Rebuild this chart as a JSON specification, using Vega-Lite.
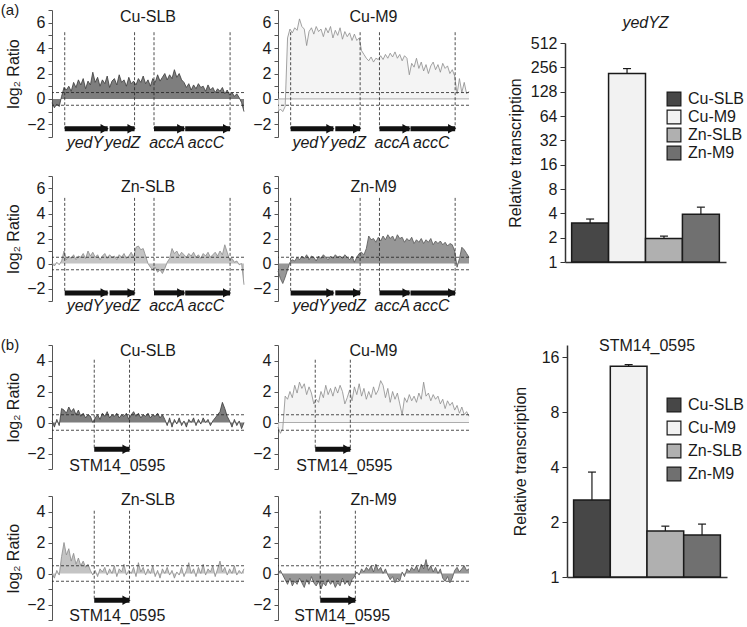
{
"$schema": "https://vega.github.io/schema/vega-lite/v6.json",
"background": "white",
"padding": {"left": 0, "top": 2, "right": 0, "bottom": 0},
"config": {
  "view": {"stroke": null},
  "font": "Liberation Sans",
  "text": {"font": "Liberation Sans"},
  "title": {"font": "Liberation Sans", "fontSize": 16, "fontWeight": "normal", "color": "#1a1a1a"},
  "axis": {"labelFont": "Liberation Sans", "titleFont": "Liberation Sans", "labelFontSize": 16, "titleFontSize": 16, "titleFontWeight": "normal", "labelColor": "#1a1a1a", "titleColor": "#1a1a1a", "domainColor": "#555", "tickColor": "#555", "grid": false, "tickSize": 4, "labelPadding": 3},
  "legend": {"labelFont": "Liberation Sans", "labelFontSize": 16, "labelColor": "#1a1a1a", "padding": 0}
},
"datasets": {
  "a1": [{"x":0,"y":-0.3},{"x":1,"y":-0.7},{"x":2,"y":-0.4},{"x":3,"y":-0.6},{"x":4,"y":0.2},{"x":5,"y":0.9},{"x":6,"y":0.7},{"x":7,"y":1.0},{"x":8,"y":0.6},{"x":9,"y":1.3},{"x":10,"y":0.9},{"x":11,"y":1.5},{"x":12,"y":1.1},{"x":13,"y":1.6},{"x":14,"y":0.8},{"x":15,"y":1.4},{"x":16,"y":1.1},{"x":17,"y":2.1},{"x":18,"y":1.3},{"x":19,"y":1.7},{"x":20,"y":1.0},{"x":21,"y":1.5},{"x":22,"y":1.2},{"x":23,"y":1.8},{"x":24,"y":0.9},{"x":25,"y":1.4},{"x":26,"y":1.6},{"x":27,"y":1.1},{"x":28,"y":1.9},{"x":29,"y":1.3},{"x":30,"y":1.5},{"x":31,"y":1.0},{"x":32,"y":1.7},{"x":33,"y":1.2},{"x":34,"y":1.4},{"x":35,"y":1.1},{"x":36,"y":1.6},{"x":37,"y":1.3},{"x":38,"y":1.8},{"x":39,"y":1.2},{"x":40,"y":1.5},{"x":41,"y":1.0},{"x":42,"y":1.6},{"x":43,"y":1.3},{"x":44,"y":1.9},{"x":45,"y":1.4},{"x":46,"y":1.7},{"x":47,"y":2.0},{"x":48,"y":1.5},{"x":49,"y":1.9},{"x":50,"y":1.6},{"x":51,"y":2.3},{"x":52,"y":1.7},{"x":53,"y":2.0},{"x":54,"y":1.5},{"x":55,"y":1.3},{"x":56,"y":0.9},{"x":57,"y":1.2},{"x":58,"y":0.7},{"x":59,"y":1.1},{"x":60,"y":0.8},{"x":61,"y":1.2},{"x":62,"y":0.9},{"x":63,"y":1.0},{"x":64,"y":0.6},{"x":65,"y":1.1},{"x":66,"y":0.7},{"x":67,"y":0.9},{"x":68,"y":0.5},{"x":69,"y":0.8},{"x":70,"y":0.6},{"x":71,"y":0.9},{"x":72,"y":0.4},{"x":73,"y":0.7},{"x":74,"y":0.3},{"x":75,"y":0.5},{"x":76,"y":0.2},{"x":77,"y":0.4},{"x":78,"y":0.1},{"x":79,"y":-0.3},{"x":80,"y":-1.0}],
  "a2": [{"x":0,"y":-1.0},{"x":1,"y":-0.8},{"x":2,"y":-1.0},{"x":3,"y":-0.6},{"x":4,"y":4.8},{"x":5,"y":5.5},{"x":6,"y":5.2},{"x":7,"y":5.6},{"x":8,"y":5.4},{"x":9,"y":6.3},{"x":10,"y":5.7},{"x":11,"y":5.5},{"x":12,"y":4.2},{"x":13,"y":5.3},{"x":14,"y":5.6},{"x":15,"y":5.1},{"x":16,"y":5.7},{"x":17,"y":5.3},{"x":18,"y":5.5},{"x":19,"y":4.9},{"x":20,"y":5.6},{"x":21,"y":5.2},{"x":22,"y":5.7},{"x":23,"y":4.8},{"x":24,"y":5.4},{"x":25,"y":5.0},{"x":26,"y":5.6},{"x":27,"y":4.7},{"x":28,"y":5.3},{"x":29,"y":4.9},{"x":30,"y":5.2},{"x":31,"y":4.6},{"x":32,"y":5.1},{"x":33,"y":4.6},{"x":34,"y":4.8},{"x":35,"y":3.8},{"x":36,"y":3.5},{"x":37,"y":3.2},{"x":38,"y":3.0},{"x":39,"y":3.3},{"x":40,"y":2.9},{"x":41,"y":3.2},{"x":42,"y":3.1},{"x":43,"y":3.4},{"x":44,"y":3.1},{"x":45,"y":3.5},{"x":46,"y":3.2},{"x":47,"y":3.6},{"x":48,"y":3.3},{"x":49,"y":3.7},{"x":50,"y":3.2},{"x":51,"y":3.5},{"x":52,"y":3.0},{"x":53,"y":3.4},{"x":54,"y":3.2},{"x":55,"y":1.9},{"x":56,"y":2.8},{"x":57,"y":2.5},{"x":58,"y":3.2},{"x":59,"y":2.4},{"x":60,"y":2.9},{"x":61,"y":2.2},{"x":62,"y":2.7},{"x":63,"y":2.0},{"x":64,"y":2.6},{"x":65,"y":2.9},{"x":66,"y":2.3},{"x":67,"y":2.7},{"x":68,"y":2.1},{"x":69,"y":2.8},{"x":70,"y":2.4},{"x":71,"y":2.6},{"x":72,"y":2.0},{"x":73,"y":2.3},{"x":74,"y":1.8},{"x":75,"y":0.4},{"x":76,"y":1.6},{"x":77,"y":0.5},{"x":78,"y":1.3},{"x":79,"y":0.4},{"x":80,"y":0.6}],
  "a3": [{"x":0,"y":0.0},{"x":1,"y":-0.2},{"x":2,"y":0.1},{"x":3,"y":-0.1},{"x":4,"y":0.2},{"x":5,"y":1.0},{"x":6,"y":0.3},{"x":7,"y":0.6},{"x":8,"y":0.4},{"x":9,"y":0.7},{"x":10,"y":0.3},{"x":11,"y":0.6},{"x":12,"y":0.5},{"x":13,"y":0.8},{"x":14,"y":0.4},{"x":15,"y":1.0},{"x":16,"y":0.6},{"x":17,"y":0.9},{"x":18,"y":0.5},{"x":19,"y":0.7},{"x":20,"y":0.3},{"x":21,"y":0.6},{"x":22,"y":0.8},{"x":23,"y":0.4},{"x":24,"y":0.7},{"x":25,"y":0.5},{"x":26,"y":0.6},{"x":27,"y":0.3},{"x":28,"y":0.7},{"x":29,"y":0.5},{"x":30,"y":0.8},{"x":31,"y":0.4},{"x":32,"y":0.6},{"x":33,"y":0.9},{"x":34,"y":0.5},{"x":35,"y":1.3},{"x":36,"y":1.4},{"x":37,"y":1.1},{"x":38,"y":1.2},{"x":39,"y":0.6},{"x":40,"y":0.0},{"x":41,"y":-0.3},{"x":42,"y":-0.5},{"x":43,"y":-0.3},{"x":44,"y":-0.7},{"x":45,"y":-0.5},{"x":46,"y":-0.8},{"x":47,"y":-0.4},{"x":48,"y":0.1},{"x":49,"y":0.4},{"x":50,"y":1.2},{"x":51,"y":0.8},{"x":52,"y":1.0},{"x":53,"y":0.6},{"x":54,"y":0.9},{"x":55,"y":0.7},{"x":56,"y":0.5},{"x":57,"y":0.8},{"x":58,"y":0.6},{"x":59,"y":0.9},{"x":60,"y":0.5},{"x":61,"y":0.7},{"x":62,"y":0.4},{"x":63,"y":0.8},{"x":64,"y":0.6},{"x":65,"y":0.9},{"x":66,"y":0.5},{"x":67,"y":0.7},{"x":68,"y":0.9},{"x":69,"y":0.6},{"x":70,"y":1.0},{"x":71,"y":0.7},{"x":72,"y":1.5},{"x":73,"y":0.9},{"x":74,"y":0.3},{"x":75,"y":0.4},{"x":76,"y":0.1},{"x":77,"y":0.2},{"x":78,"y":-0.1},{"x":79,"y":0.0},{"x":80,"y":-1.7}],
  "a4": [{"x":0,"y":-0.6},{"x":1,"y":-1.2},{"x":2,"y":-1.6},{"x":3,"y":-1.1},{"x":4,"y":-0.5},{"x":5,"y":0.1},{"x":6,"y":0.3},{"x":7,"y":0.2},{"x":8,"y":0.5},{"x":9,"y":0.3},{"x":10,"y":0.6},{"x":11,"y":0.4},{"x":12,"y":0.7},{"x":13,"y":0.3},{"x":14,"y":0.6},{"x":15,"y":0.5},{"x":16,"y":0.2},{"x":17,"y":0.6},{"x":18,"y":0.4},{"x":19,"y":0.7},{"x":20,"y":0.5},{"x":21,"y":0.3},{"x":22,"y":0.6},{"x":23,"y":0.4},{"x":24,"y":0.7},{"x":25,"y":0.5},{"x":26,"y":0.6},{"x":27,"y":0.4},{"x":28,"y":0.7},{"x":29,"y":0.5},{"x":30,"y":0.3},{"x":31,"y":0.6},{"x":32,"y":0.1},{"x":33,"y":0.5},{"x":34,"y":0.8},{"x":35,"y":0.9},{"x":36,"y":0.7},{"x":37,"y":1.2},{"x":38,"y":2.2},{"x":39,"y":1.9},{"x":40,"y":2.0},{"x":41,"y":1.7},{"x":42,"y":2.1},{"x":43,"y":1.8},{"x":44,"y":2.2},{"x":45,"y":1.9},{"x":46,"y":2.3},{"x":47,"y":2.0},{"x":48,"y":2.2},{"x":49,"y":1.8},{"x":50,"y":2.3},{"x":51,"y":2.0},{"x":52,"y":2.1},{"x":53,"y":1.7},{"x":54,"y":2.0},{"x":55,"y":1.8},{"x":56,"y":2.1},{"x":57,"y":1.6},{"x":58,"y":1.9},{"x":59,"y":1.7},{"x":60,"y":2.0},{"x":61,"y":1.6},{"x":62,"y":1.9},{"x":63,"y":1.7},{"x":64,"y":2.0},{"x":65,"y":1.5},{"x":66,"y":1.8},{"x":67,"y":1.6},{"x":68,"y":1.8},{"x":69,"y":1.5},{"x":70,"y":1.7},{"x":71,"y":1.4},{"x":72,"y":1.6},{"x":73,"y":1.5},{"x":74,"y":1.0},{"x":75,"y":-0.3},{"x":76,"y":0.4},{"x":77,"y":1.3},{"x":78,"y":1.1},{"x":79,"y":0.8},{"x":80,"y":0.5}],
  "b1": [{"x":0,"y":0.1},{"x":1,"y":-0.3},{"x":2,"y":0.2},{"x":3,"y":-0.2},{"x":4,"y":0.9},{"x":5,"y":0.8},{"x":6,"y":0.6},{"x":7,"y":1.0},{"x":8,"y":0.7},{"x":9,"y":0.9},{"x":10,"y":0.5},{"x":11,"y":0.8},{"x":12,"y":0.4},{"x":13,"y":0.6},{"x":14,"y":0.3},{"x":15,"y":0.5},{"x":16,"y":0.4},{"x":17,"y":0.0},{"x":18,"y":0.3},{"x":19,"y":0.5},{"x":20,"y":0.2},{"x":21,"y":0.6},{"x":22,"y":0.4},{"x":23,"y":0.7},{"x":24,"y":0.3},{"x":25,"y":0.5},{"x":26,"y":0.4},{"x":27,"y":0.6},{"x":28,"y":0.3},{"x":29,"y":0.5},{"x":30,"y":0.4},{"x":31,"y":0.6},{"x":32,"y":0.2},{"x":33,"y":0.5},{"x":34,"y":0.7},{"x":35,"y":0.4},{"x":36,"y":0.6},{"x":37,"y":0.3},{"x":38,"y":0.5},{"x":39,"y":0.4},{"x":40,"y":0.6},{"x":41,"y":0.3},{"x":42,"y":0.5},{"x":43,"y":0.4},{"x":44,"y":0.6},{"x":45,"y":0.3},{"x":46,"y":0.5},{"x":47,"y":0.2},{"x":48,"y":-0.2},{"x":49,"y":0.3},{"x":50,"y":-0.3},{"x":51,"y":0.2},{"x":52,"y":-0.1},{"x":53,"y":0.3},{"x":54,"y":-0.2},{"x":55,"y":0.1},{"x":56,"y":-0.3},{"x":57,"y":0.2},{"x":58,"y":0.0},{"x":59,"y":0.3},{"x":60,"y":-0.2},{"x":61,"y":0.2},{"x":62,"y":-0.1},{"x":63,"y":0.3},{"x":64,"y":0.0},{"x":65,"y":0.2},{"x":66,"y":-0.2},{"x":67,"y":0.1},{"x":68,"y":0.3},{"x":69,"y":0.5},{"x":70,"y":0.7},{"x":71,"y":1.3},{"x":72,"y":0.9},{"x":73,"y":0.4},{"x":74,"y":0.1},{"x":75,"y":-0.3},{"x":76,"y":0.2},{"x":77,"y":-0.2},{"x":78,"y":0.1},{"x":79,"y":-0.4},{"x":80,"y":0.0}],
  "b2": [{"x":0,"y":-0.3},{"x":1,"y":-0.7},{"x":2,"y":-0.4},{"x":3,"y":1.7},{"x":4,"y":1.5},{"x":5,"y":2.0},{"x":6,"y":1.6},{"x":7,"y":2.4},{"x":8,"y":1.9},{"x":9,"y":2.6},{"x":10,"y":2.2},{"x":11,"y":2.5},{"x":12,"y":1.8},{"x":13,"y":2.3},{"x":14,"y":1.9},{"x":15,"y":1.2},{"x":16,"y":1.5},{"x":17,"y":1.3},{"x":18,"y":2.0},{"x":19,"y":1.6},{"x":20,"y":2.4},{"x":21,"y":1.8},{"x":22,"y":2.2},{"x":23,"y":1.7},{"x":24,"y":2.3},{"x":25,"y":1.9},{"x":26,"y":2.4},{"x":27,"y":2.0},{"x":28,"y":1.2},{"x":29,"y":1.6},{"x":30,"y":2.1},{"x":31,"y":1.4},{"x":32,"y":2.3},{"x":33,"y":1.8},{"x":34,"y":2.5},{"x":35,"y":1.7},{"x":36,"y":2.2},{"x":37,"y":1.5},{"x":38,"y":2.0},{"x":39,"y":1.6},{"x":40,"y":2.3},{"x":41,"y":1.8},{"x":42,"y":2.1},{"x":43,"y":2.7},{"x":44,"y":2.4},{"x":45,"y":1.6},{"x":46,"y":2.2},{"x":47,"y":1.3},{"x":48,"y":2.0},{"x":49,"y":1.5},{"x":50,"y":1.9},{"x":51,"y":1.2},{"x":52,"y":0.5},{"x":53,"y":1.6},{"x":54,"y":1.3},{"x":55,"y":1.8},{"x":56,"y":1.4},{"x":57,"y":1.7},{"x":58,"y":1.3},{"x":59,"y":1.9},{"x":60,"y":1.5},{"x":61,"y":2.6},{"x":62,"y":1.7},{"x":63,"y":1.9},{"x":64,"y":1.4},{"x":65,"y":1.8},{"x":66,"y":1.5},{"x":67,"y":1.7},{"x":68,"y":1.2},{"x":69,"y":1.5},{"x":70,"y":0.9},{"x":71,"y":1.4},{"x":72,"y":1.1},{"x":73,"y":1.3},{"x":74,"y":0.8},{"x":75,"y":1.1},{"x":76,"y":0.6},{"x":77,"y":1.0},{"x":78,"y":0.5},{"x":79,"y":0.7},{"x":80,"y":0.4}],
  "b3": [{"x":0,"y":0.0},{"x":1,"y":-0.3},{"x":2,"y":0.2},{"x":3,"y":-0.1},{"x":4,"y":1.1},{"x":5,"y":2.0},{"x":6,"y":1.2},{"x":7,"y":1.6},{"x":8,"y":0.8},{"x":9,"y":1.3},{"x":10,"y":0.6},{"x":11,"y":1.0},{"x":12,"y":0.5},{"x":13,"y":0.8},{"x":14,"y":0.4},{"x":15,"y":0.6},{"x":16,"y":0.2},{"x":17,"y":-0.1},{"x":18,"y":0.2},{"x":19,"y":-0.2},{"x":20,"y":0.3},{"x":21,"y":0.1},{"x":22,"y":0.4},{"x":23,"y":-0.1},{"x":24,"y":0.3},{"x":25,"y":0.0},{"x":26,"y":0.5},{"x":27,"y":-0.2},{"x":28,"y":0.3},{"x":29,"y":0.1},{"x":30,"y":0.6},{"x":31,"y":-0.1},{"x":32,"y":0.2},{"x":33,"y":0.0},{"x":34,"y":0.4},{"x":35,"y":-0.2},{"x":36,"y":0.7},{"x":37,"y":0.1},{"x":38,"y":0.4},{"x":39,"y":-0.1},{"x":40,"y":0.3},{"x":41,"y":0.0},{"x":42,"y":0.5},{"x":43,"y":-0.2},{"x":44,"y":0.2},{"x":45,"y":-0.3},{"x":46,"y":0.3},{"x":47,"y":0.0},{"x":48,"y":0.4},{"x":49,"y":-0.1},{"x":50,"y":0.2},{"x":51,"y":-0.3},{"x":52,"y":0.1},{"x":53,"y":-0.1},{"x":54,"y":0.4},{"x":55,"y":-0.2},{"x":56,"y":0.2},{"x":57,"y":0.7},{"x":58,"y":0.0},{"x":59,"y":0.3},{"x":60,"y":-0.2},{"x":61,"y":0.4},{"x":62,"y":0.0},{"x":63,"y":0.6},{"x":64,"y":-0.1},{"x":65,"y":0.3},{"x":66,"y":0.1},{"x":67,"y":0.5},{"x":68,"y":-0.2},{"x":69,"y":0.3},{"x":70,"y":0.8},{"x":71,"y":0.1},{"x":72,"y":0.4},{"x":73,"y":-0.1},{"x":74,"y":0.3},{"x":75,"y":0.0},{"x":76,"y":0.5},{"x":77,"y":-0.1},{"x":78,"y":0.2},{"x":79,"y":0.0},{"x":80,"y":0.3}],
  "b4": [{"x":0,"y":0.0},{"x":1,"y":0.2},{"x":2,"y":-0.1},{"x":3,"y":-0.4},{"x":4,"y":-0.7},{"x":5,"y":-0.3},{"x":6,"y":-0.8},{"x":7,"y":-0.5},{"x":8,"y":-0.7},{"x":9,"y":-0.3},{"x":10,"y":-0.6},{"x":11,"y":-0.9},{"x":12,"y":-0.4},{"x":13,"y":-0.7},{"x":14,"y":-0.2},{"x":15,"y":-0.6},{"x":16,"y":-0.8},{"x":17,"y":-0.5},{"x":18,"y":-1.0},{"x":19,"y":-0.6},{"x":20,"y":-0.8},{"x":21,"y":-0.4},{"x":22,"y":-0.7},{"x":23,"y":-0.5},{"x":24,"y":-0.9},{"x":25,"y":-0.6},{"x":26,"y":-0.8},{"x":27,"y":-0.3},{"x":28,"y":-0.7},{"x":29,"y":-0.5},{"x":30,"y":-0.8},{"x":31,"y":-0.4},{"x":32,"y":-0.2},{"x":33,"y":0.1},{"x":34,"y":-0.1},{"x":35,"y":0.3},{"x":36,"y":0.1},{"x":37,"y":0.4},{"x":38,"y":0.2},{"x":39,"y":0.5},{"x":40,"y":0.1},{"x":41,"y":0.6},{"x":42,"y":0.2},{"x":43,"y":0.4},{"x":44,"y":0.0},{"x":45,"y":0.3},{"x":46,"y":-0.1},{"x":47,"y":-0.4},{"x":48,"y":-0.2},{"x":49,"y":-0.6},{"x":50,"y":-0.3},{"x":51,"y":-0.5},{"x":52,"y":0.1},{"x":53,"y":-0.2},{"x":54,"y":0.3},{"x":55,"y":0.1},{"x":56,"y":0.4},{"x":57,"y":0.2},{"x":58,"y":0.5},{"x":59,"y":0.1},{"x":60,"y":0.6},{"x":61,"y":0.3},{"x":62,"y":0.9},{"x":63,"y":0.2},{"x":64,"y":0.5},{"x":65,"y":0.1},{"x":66,"y":0.4},{"x":67,"y":0.0},{"x":68,"y":0.3},{"x":69,"y":-0.3},{"x":70,"y":-0.5},{"x":71,"y":-0.2},{"x":72,"y":-0.6},{"x":73,"y":-0.3},{"x":74,"y":0.2},{"x":75,"y":0.4},{"x":76,"y":0.1},{"x":77,"y":0.3},{"x":78,"y":0.5},{"x":79,"y":0.2},{"x":80,"y":0.3}],
  "thr": [{"t":0.5},{"t":-0.5}],
  "vA": [{"v":5.3},{"v":34.4},{"v":42.5},{"v":74.2}],
  "gA": [{"s":5.3,"e":23.2},{"s":24.0,"e":34.4},{"s":42.5,"e":55.1},{"s":55.5,"e":74.2}],
  "lA": [{"g":"yedY","c":13.7},{"g":"yedZ","c":29.4},{"g":"accA","c":47.9},{"g":"accC","c":64.2}],
  "barA": [{"cond":"Cu-SLB","val":3.03,"hi":3.4},{"cond":"Cu-M9","val":215,"hi":247},{"cond":"Zn-SLB","val":1.95,"hi":2.09},{"cond":"Zn-M9","val":3.9,"hi":4.77}],
  "barB": [{"cond":"Cu-SLB","val":2.64,"hi":3.76},{"cond":"Cu-M9","val":14.3,"hi":14.6},{"cond":"Zn-SLB","val":1.79,"hi":1.9},{"cond":"Zn-M9","val":1.7,"hi":1.95}]
},
"resolve": {"legend": {"color": "independent"}, "scale": {"color": "independent"}},
"vconcat": [
 {"resolve": {"legend": {"color": "independent"}, "scale": {"color": "independent"}},
  "hconcat": [
  {"vconcat": [
   {"hconcat": [
    {"width": 192, "height": 127, "title": {"text": "Cu-SLB", "offset": -23, "frame": "group"},
     "layer": [
      {"data": {"name": "a1"}, "mark": {"type": "area", "color": "#474747", "line": {"color": "#3a3a3a", "strokeWidth": 0.8}},
       "encoding": {"x": {"field": "x", "type": "quantitative", "scale": {"domain": [0, 80]}, "axis": null},
                    "y": {"field": "y", "type": "quantitative", "scale": {"domain": [-3, 7]}, "axis": {"tickCount": 10, "labelOverlap": false, "labelExpr": "datum.value % 2 == 0 ? datum.label : ''", "title": "log₂ Ratio", "titlePadding": 5}},
                    "y2": {"datum": 0}}},
      {"data": {"name": "thr"}, "mark": {"type": "rule", "color": "#222", "strokeDash": [3, 2], "strokeWidth": 0.8},
       "encoding": {"y": {"field": "t", "type": "quantitative"}}},
      {"data": {"name": "vA"}, "mark": {"type": "rule", "color": "#222", "strokeDash": [3, 2], "strokeWidth": 0.8},
       "encoding": {"x": {"field": "v", "type": "quantitative", "axis": null}, "y": {"datum": 5.25}, "y2": {"datum": -2.35}}},
      {"data": {"name": "gA"}, "mark": {"type": "rule", "color": "#111", "strokeWidth": 5},
       "encoding": {"x": {"field": "s", "type": "quantitative", "axis": null}, "x2": {"field": "e"}, "y": {"datum": -2.35}}},
      {"data": {"name": "gA"}, "mark": {"type": "point", "shape": "triangle-right", "filled": true, "color": "#111", "opacity": 1, "size": 90, "xOffset": -3},
       "encoding": {"x": {"field": "e", "type": "quantitative", "axis": null}, "y": {"datum": -2.35}}},
      {"data": {"name": "lA"}, "mark": {"type": "text", "fontStyle": "italic", "fontSize": 16, "color": "#1a1a1a"},
       "encoding": {"x": {"field": "c", "type": "quantitative", "axis": null}, "y": {"datum": -3.45}, "text": {"field": "g"}}},
      {"data": {"values": [{"label": "(a)"}]}, "mark": {"type": "text", "fontSize": 15, "color": "#1a1a1a"},
       "encoding": {"x": {"datum": -17.5, "axis": null}, "y": {"datum": 7}, "text": {"field": "label"}}}
     ]},
    {"width": 191, "height": 127, "title": {"text": "Cu-M9", "offset": -23, "frame": "group"},
     "layer": [
      {"data": {"name": "a2"}, "mark": {"type": "area", "color": "#efefef", "line": {"color": "#8c8c8c", "strokeWidth": 0.8}},
       "encoding": {"x": {"field": "x", "type": "quantitative", "scale": {"domain": [0, 80]}, "axis": null},
                    "y": {"field": "y", "type": "quantitative", "scale": {"domain": [-3, 7]}, "axis": {"tickCount": 10, "labelOverlap": false, "labelExpr": "datum.value % 2 == 0 ? datum.label : ''", "title": null}},
                    "y2": {"datum": 0}}},
      {"data": {"values": [{"z": 0}]}, "mark": {"type": "rule", "color": "#999", "strokeWidth": 0.8},
       "encoding": {"y": {"field": "z", "type": "quantitative"}}},
      {"data": {"name": "thr"}, "mark": {"type": "rule", "color": "#222", "strokeDash": [3, 2], "strokeWidth": 0.8},
       "encoding": {"y": {"field": "t", "type": "quantitative"}}},
      {"data": {"name": "vA"}, "mark": {"type": "rule", "color": "#222", "strokeDash": [3, 2], "strokeWidth": 0.8},
       "encoding": {"x": {"field": "v", "type": "quantitative", "axis": null}, "y": {"datum": 5.25}, "y2": {"datum": -2.35}}},
      {"data": {"name": "gA"}, "mark": {"type": "rule", "color": "#111", "strokeWidth": 5},
       "encoding": {"x": {"field": "s", "type": "quantitative", "axis": null}, "x2": {"field": "e"}, "y": {"datum": -2.35}}},
      {"data": {"name": "gA"}, "mark": {"type": "point", "shape": "triangle-right", "filled": true, "color": "#111", "opacity": 1, "size": 90, "xOffset": -3},
       "encoding": {"x": {"field": "e", "type": "quantitative", "axis": null}, "y": {"datum": -2.35}}},
      {"data": {"name": "lA"}, "mark": {"type": "text", "fontStyle": "italic", "fontSize": 16, "color": "#1a1a1a"},
       "encoding": {"x": {"field": "c", "type": "quantitative", "axis": null}, "y": {"datum": -3.45}, "text": {"field": "g"}}}
     ]}
   ], "spacing": 34, "bounds": "flush"},
   {"hconcat": [
    {"width": 192, "height": 125, "title": {"text": "Zn-SLB", "offset": -27, "frame": "group"},
     "layer": [
      {"data": {"name": "a3"}, "mark": {"type": "area", "color": "#ababab", "line": {"color": "#8a8a8a", "strokeWidth": 0.8}},
       "encoding": {"x": {"field": "x", "type": "quantitative", "scale": {"domain": [0, 80]}, "axis": null},
                    "y": {"field": "y", "type": "quantitative", "scale": {"domain": [-3, 7]}, "axis": {"tickCount": 10, "labelOverlap": false, "labelExpr": "datum.value % 2 == 0 ? datum.label : ''", "title": "log₂ Ratio", "titlePadding": 5}},
                    "y2": {"datum": 0}}},
      {"data": {"name": "thr"}, "mark": {"type": "rule", "color": "#222", "strokeDash": [3, 2], "strokeWidth": 0.8},
       "encoding": {"y": {"field": "t", "type": "quantitative"}}},
      {"data": {"name": "vA"}, "mark": {"type": "rule", "color": "#222", "strokeDash": [3, 2], "strokeWidth": 0.8},
       "encoding": {"x": {"field": "v", "type": "quantitative", "axis": null}, "y": {"datum": 5.25}, "y2": {"datum": -2.35}}},
      {"data": {"name": "gA"}, "mark": {"type": "rule", "color": "#111", "strokeWidth": 5},
       "encoding": {"x": {"field": "s", "type": "quantitative", "axis": null}, "x2": {"field": "e"}, "y": {"datum": -2.35}}},
      {"data": {"name": "gA"}, "mark": {"type": "point", "shape": "triangle-right", "filled": true, "color": "#111", "opacity": 1, "size": 90, "xOffset": -3},
       "encoding": {"x": {"field": "e", "type": "quantitative", "axis": null}, "y": {"datum": -2.35}}},
      {"data": {"name": "lA"}, "mark": {"type": "text", "fontStyle": "italic", "fontSize": 16, "color": "#1a1a1a"},
       "encoding": {"x": {"field": "c", "type": "quantitative", "axis": null}, "y": {"datum": -3.4}, "text": {"field": "g"}}}
     ]},
    {"width": 191, "height": 125, "title": {"text": "Zn-M9", "offset": -27, "frame": "group"},
     "layer": [
      {"data": {"name": "a4"}, "mark": {"type": "area", "color": "#6b6b6b", "line": {"color": "#555", "strokeWidth": 0.8}},
       "encoding": {"x": {"field": "x", "type": "quantitative", "scale": {"domain": [0, 80]}, "axis": null},
                    "y": {"field": "y", "type": "quantitative", "scale": {"domain": [-3, 7]}, "axis": {"tickCount": 10, "labelOverlap": false, "labelExpr": "datum.value % 2 == 0 ? datum.label : ''", "title": null}},
                    "y2": {"datum": 0}}},
      {"data": {"name": "thr"}, "mark": {"type": "rule", "color": "#222", "strokeDash": [3, 2], "strokeWidth": 0.8},
       "encoding": {"y": {"field": "t", "type": "quantitative"}}},
      {"data": {"name": "vA"}, "mark": {"type": "rule", "color": "#222", "strokeDash": [3, 2], "strokeWidth": 0.8},
       "encoding": {"x": {"field": "v", "type": "quantitative", "axis": null}, "y": {"datum": 5.25}, "y2": {"datum": -2.35}}},
      {"data": {"name": "gA"}, "mark": {"type": "rule", "color": "#111", "strokeWidth": 5},
       "encoding": {"x": {"field": "s", "type": "quantitative", "axis": null}, "x2": {"field": "e"}, "y": {"datum": -2.35}}},
      {"data": {"name": "gA"}, "mark": {"type": "point", "shape": "triangle-right", "filled": true, "color": "#111", "opacity": 1, "size": 90, "xOffset": -3},
       "encoding": {"x": {"field": "e", "type": "quantitative", "axis": null}, "y": {"datum": -2.35}}},
      {"data": {"name": "lA"}, "mark": {"type": "text", "fontStyle": "italic", "fontSize": 16, "color": "#1a1a1a"},
       "encoding": {"x": {"field": "c", "type": "quantitative", "axis": null}, "y": {"datum": -3.4}, "text": {"field": "g"}}}
     ]}
   ], "spacing": 34, "bounds": "flush"}
  ], "spacing": 17},
  {"width": 161, "height": 252, "title": {"text": "yedYZ", "fontStyle": "italic", "offset": -21, "frame": "group"},
   "data": {"name": "barA"},
   "layer": [
    {"mark": {"type": "bar", "stroke": "#1a1a1a", "strokeWidth": 1.5},
     "encoding": {
       "x": {"field": "cond", "type": "nominal", "sort": ["Cu-SLB","Cu-M9","Zn-SLB","Zn-M9"], "scale": {"paddingInner": 0, "paddingOuter": 0.18}, "axis": {"labels": false, "ticks": false, "title": null, "domainColor": "#333", "domainWidth": 1.5}},
       "y": {"field": "val", "type": "quantitative", "scale": {"type": "log", "base": 2, "domain": [1, 512], "nice": false, "range": [252, 33]}, "axis": {"values": [1,2,4,8,16,32,64,128,256,512], "title": "Relative transcription", "titlePadding": 7, "domainColor": "#333", "domainWidth": 1.5, "tickColor": "#333", "tickSize": 5}},
       "y2": {"datum": 1},
       "color": {"field": "cond", "type": "nominal", "scale": {"domain": ["Cu-SLB","Cu-M9","Zn-SLB","Zn-M9"], "range": ["#474747","#f2f2f2","#b0b0b0","#707070"]},
                 "legend": {"orient": "none", "legendX": 101, "legendY": 81, "title": null, "symbolType": "square", "symbolSize": 190, "symbolStrokeColor": "#1a1a1a", "symbolStrokeWidth": 1.2, "symbolOpacity": 1, "labelOffset": 6, "rowPadding": -5}}}},
    {"mark": {"type": "rule", "color": "#1a1a1a", "strokeWidth": 1.2},
     "encoding": {"x": {"field": "cond", "type": "nominal", "sort": ["Cu-SLB","Cu-M9","Zn-SLB","Zn-M9"]}, "y": {"field": "val", "type": "quantitative"}, "y2": {"field": "hi"}}},
    {"mark": {"type": "point", "shape": "stroke", "color": "#1a1a1a", "strokeWidth": 1.2, "size": 64, "opacity": 1},
     "encoding": {"x": {"field": "cond", "type": "nominal", "sort": ["Cu-SLB","Cu-M9","Zn-SLB","Zn-M9"]}, "y": {"field": "hi", "type": "quantitative"}}}
   ]}
 ], "spacing": 36},
 {"resolve": {"legend": {"color": "independent"}, "scale": {"color": "independent"}},
  "hconcat": [
  {"vconcat": [
   {"hconcat": [
    {"width": 192, "height": 124, "title": {"text": "Cu-SLB", "offset": -22, "frame": "group"},
     "layer": [
      {"data": {"name": "b1"}, "mark": {"type": "area", "color": "#474747", "line": {"color": "#3a3a3a", "strokeWidth": 0.8}},
       "encoding": {"x": {"field": "x", "type": "quantitative", "scale": {"domain": [0, 80]}, "axis": null},
                    "y": {"field": "y", "type": "quantitative", "scale": {"domain": [-3, 5]}, "axis": {"tickCount": 8, "labelOverlap": false, "labelExpr": "datum.value % 2 == 0 ? datum.label : ''", "title": "log₂ Ratio", "titlePadding": 5}},
                    "y2": {"datum": 0}}},
      {"data": {"name": "thr"}, "mark": {"type": "rule", "color": "#222", "strokeDash": [3, 2], "strokeWidth": 0.8},
       "encoding": {"y": {"field": "t", "type": "quantitative"}}},
      {"data": {"values": [{"v": 17.6}, {"v": 32.3}]}, "mark": {"type": "rule", "color": "#222", "strokeDash": [3, 2], "strokeWidth": 0.8},
       "encoding": {"x": {"field": "v", "type": "quantitative", "axis": null}, "y": {"datum": 4.05}, "y2": {"datum": -1.73}}},
      {"data": {"values": [{"s": 17.6, "e": 32.3}]}, "mark": {"type": "rule", "color": "#111", "strokeWidth": 5},
       "encoding": {"x": {"field": "s", "type": "quantitative", "axis": null}, "x2": {"field": "e"}, "y": {"datum": -1.73}}},
      {"data": {"values": [{"e": 32.3}]}, "mark": {"type": "point", "shape": "triangle-right", "filled": true, "color": "#111", "opacity": 1, "size": 90, "xOffset": -3},
       "encoding": {"x": {"field": "e", "type": "quantitative", "axis": null}, "y": {"datum": -1.73}}},
      {"data": {"values": [{"g": "STM14_0595", "c": 27.2}]}, "mark": {"type": "text", "fontSize": 16, "color": "#1a1a1a"},
       "encoding": {"x": {"field": "c", "type": "quantitative", "axis": null}, "y": {"datum": -2.8}, "text": {"field": "g"}}},
      {"data": {"values": [{"label": "(b)"}]}, "mark": {"type": "text", "fontSize": 15, "color": "#1a1a1a"},
       "encoding": {"x": {"datum": -17.5, "axis": null}, "y": {"datum": 5}, "text": {"field": "label"}}}
     ]},
    {"width": 191, "height": 124, "title": {"text": "Cu-M9", "offset": -22, "frame": "group"},
     "layer": [
      {"data": {"name": "b2"}, "mark": {"type": "area", "color": "#efefef", "line": {"color": "#8c8c8c", "strokeWidth": 0.8}},
       "encoding": {"x": {"field": "x", "type": "quantitative", "scale": {"domain": [0, 80]}, "axis": null},
                    "y": {"field": "y", "type": "quantitative", "scale": {"domain": [-3, 5]}, "axis": {"tickCount": 8, "labelOverlap": false, "labelExpr": "datum.value % 2 == 0 ? datum.label : ''", "title": null}},
                    "y2": {"datum": 0}}},
      {"data": {"values": [{"z": 0}]}, "mark": {"type": "rule", "color": "#999", "strokeWidth": 0.8},
       "encoding": {"y": {"field": "z", "type": "quantitative"}}},
      {"data": {"name": "thr"}, "mark": {"type": "rule", "color": "#222", "strokeDash": [3, 2], "strokeWidth": 0.8},
       "encoding": {"y": {"field": "t", "type": "quantitative"}}},
      {"data": {"values": [{"v": 15.6}, {"v": 30.3}]}, "mark": {"type": "rule", "color": "#222", "strokeDash": [3, 2], "strokeWidth": 0.8},
       "encoding": {"x": {"field": "v", "type": "quantitative", "axis": null}, "y": {"datum": 4.05}, "y2": {"datum": -1.73}}},
      {"data": {"values": [{"s": 15.6, "e": 30.3}]}, "mark": {"type": "rule", "color": "#111", "strokeWidth": 5},
       "encoding": {"x": {"field": "s", "type": "quantitative", "axis": null}, "x2": {"field": "e"}, "y": {"datum": -1.73}}},
      {"data": {"values": [{"e": 30.3}]}, "mark": {"type": "point", "shape": "triangle-right", "filled": true, "color": "#111", "opacity": 1, "size": 90, "xOffset": -3},
       "encoding": {"x": {"field": "e", "type": "quantitative", "axis": null}, "y": {"datum": -1.73}}},
      {"data": {"values": [{"g": "STM14_0595", "c": 27.8}]}, "mark": {"type": "text", "fontSize": 16, "color": "#1a1a1a"},
       "encoding": {"x": {"field": "c", "type": "quantitative", "axis": null}, "y": {"datum": -2.8}, "text": {"field": "g"}}}
     ]}
   ], "spacing": 34, "bounds": "flush"},
   {"hconcat": [
    {"width": 192, "height": 124, "title": {"text": "Zn-SLB", "offset": -20, "frame": "group"},
     "layer": [
      {"data": {"name": "b3"}, "mark": {"type": "area", "color": "#ababab", "line": {"color": "#8a8a8a", "strokeWidth": 0.8}},
       "encoding": {"x": {"field": "x", "type": "quantitative", "scale": {"domain": [0, 80]}, "axis": null},
                    "y": {"field": "y", "type": "quantitative", "scale": {"domain": [-3, 5]}, "axis": {"tickCount": 8, "labelOverlap": false, "labelExpr": "datum.value % 2 == 0 ? datum.label : ''", "title": "log₂ Ratio", "titlePadding": 5}},
                    "y2": {"datum": 0}}},
      {"data": {"name": "thr"}, "mark": {"type": "rule", "color": "#222", "strokeDash": [3, 2], "strokeWidth": 0.8},
       "encoding": {"y": {"field": "t", "type": "quantitative"}}},
      {"data": {"values": [{"v": 17.6}, {"v": 32.3}]}, "mark": {"type": "rule", "color": "#222", "strokeDash": [3, 2], "strokeWidth": 0.8},
       "encoding": {"x": {"field": "v", "type": "quantitative", "axis": null}, "y": {"datum": 4.05}, "y2": {"datum": -1.73}}},
      {"data": {"values": [{"s": 17.6, "e": 32.3}]}, "mark": {"type": "rule", "color": "#111", "strokeWidth": 5},
       "encoding": {"x": {"field": "s", "type": "quantitative", "axis": null}, "x2": {"field": "e"}, "y": {"datum": -1.73}}},
      {"data": {"values": [{"e": 32.3}]}, "mark": {"type": "point", "shape": "triangle-right", "filled": true, "color": "#111", "opacity": 1, "size": 90, "xOffset": -3},
       "encoding": {"x": {"field": "e", "type": "quantitative", "axis": null}, "y": {"datum": -1.73}}},
      {"data": {"values": [{"g": "STM14_0595", "c": 27.2}]}, "mark": {"type": "text", "fontSize": 16, "color": "#1a1a1a"},
       "encoding": {"x": {"field": "c", "type": "quantitative", "axis": null}, "y": {"datum": -2.75}, "text": {"field": "g"}}}
     ]},
    {"width": 191, "height": 124, "title": {"text": "Zn-M9", "offset": -20, "frame": "group"},
     "layer": [
      {"data": {"name": "b4"}, "mark": {"type": "area", "color": "#6b6b6b", "line": {"color": "#555", "strokeWidth": 0.8}},
       "encoding": {"x": {"field": "x", "type": "quantitative", "scale": {"domain": [0, 80]}, "axis": null},
                    "y": {"field": "y", "type": "quantitative", "scale": {"domain": [-3, 5]}, "axis": {"tickCount": 8, "labelOverlap": false, "labelExpr": "datum.value % 2 == 0 ? datum.label : ''", "title": null}},
                    "y2": {"datum": 0}}},
      {"data": {"name": "thr"}, "mark": {"type": "rule", "color": "#222", "strokeDash": [3, 2], "strokeWidth": 0.8},
       "encoding": {"y": {"field": "t", "type": "quantitative"}}},
      {"data": {"values": [{"v": 17.7}, {"v": 32.4}]}, "mark": {"type": "rule", "color": "#222", "strokeDash": [3, 2], "strokeWidth": 0.8},
       "encoding": {"x": {"field": "v", "type": "quantitative", "axis": null}, "y": {"datum": 4.05}, "y2": {"datum": -1.73}}},
      {"data": {"values": [{"s": 17.7, "e": 32.4}]}, "mark": {"type": "rule", "color": "#111", "strokeWidth": 5},
       "encoding": {"x": {"field": "s", "type": "quantitative", "axis": null}, "x2": {"field": "e"}, "y": {"datum": -1.73}}},
      {"data": {"values": [{"e": 32.4}]}, "mark": {"type": "point", "shape": "triangle-right", "filled": true, "color": "#111", "opacity": 1, "size": 90, "xOffset": -3},
       "encoding": {"x": {"field": "e", "type": "quantitative", "axis": null}, "y": {"datum": -1.73}}},
      {"data": {"values": [{"g": "STM14_0595", "c": 26.9}]}, "mark": {"type": "text", "fontSize": 16, "color": "#1a1a1a"},
       "encoding": {"x": {"field": "c", "type": "quantitative", "axis": null}, "y": {"datum": -2.75}, "text": {"field": "g"}}}
     ]}
   ], "spacing": 34, "bounds": "flush"}
  ], "spacing": 11},
  {"width": 160, "height": 232, "title": {"text": "STM14_0595", "offset": -9, "frame": "group"},
   "data": {"name": "barB"},
   "layer": [
    {"mark": {"type": "bar", "stroke": "#1a1a1a", "strokeWidth": 1.5},
     "encoding": {
       "x": {"field": "cond", "type": "nominal", "sort": ["Cu-SLB","Cu-M9","Zn-SLB","Zn-M9"], "scale": {"paddingInner": 0, "paddingOuter": 0.18}, "axis": {"labels": false, "ticks": false, "title": null, "domainColor": "#333", "domainWidth": 1.5}},
       "y": {"field": "val", "type": "quantitative", "scale": {"type": "log", "base": 2, "domain": [1, 18.7], "nice": false}, "axis": {"values": [1,2,4,8,16], "title": "Relative transcription", "titlePadding": 13, "domainColor": "#333", "domainWidth": 1.5, "tickColor": "#333", "tickSize": 5}},
       "y2": {"datum": 1},
       "color": {"field": "cond", "type": "nominal", "scale": {"domain": ["Cu-SLB","Cu-M9","Zn-SLB","Zn-M9"], "range": ["#474747","#f2f2f2","#b0b0b0","#707070"]},
                 "legend": {"orient": "none", "legendX": 99, "legendY": 52, "title": null, "symbolType": "square", "symbolSize": 190, "symbolStrokeColor": "#1a1a1a", "symbolStrokeWidth": 1.2, "symbolOpacity": 1, "labelOffset": 6, "rowPadding": 3}}}},
    {"mark": {"type": "rule", "color": "#1a1a1a", "strokeWidth": 1.2},
     "encoding": {"x": {"field": "cond", "type": "nominal", "sort": ["Cu-SLB","Cu-M9","Zn-SLB","Zn-M9"]}, "y": {"field": "val", "type": "quantitative"}, "y2": {"field": "hi"}}},
    {"mark": {"type": "point", "shape": "stroke", "color": "#1a1a1a", "strokeWidth": 1.2, "size": 64, "opacity": 1},
     "encoding": {"x": {"field": "cond", "type": "nominal", "sort": ["Cu-SLB","Cu-M9","Zn-SLB","Zn-M9"]}, "y": {"field": "hi", "type": "quantitative"}}}
   ]}
 ], "spacing": 41}
],
"spacing": 23
}
